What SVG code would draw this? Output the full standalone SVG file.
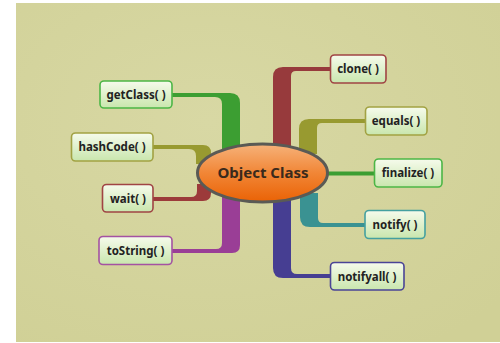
<svg xmlns="http://www.w3.org/2000/svg" width="500" height="343" viewBox="0 0 500 343">
<defs>
<linearGradient id="box" x1="0" y1="0" x2="0" y2="1">
<stop offset="0" stop-color="#f6fbec"/>
<stop offset="1" stop-color="#c9e6ad"/>
</linearGradient>
<linearGradient id="orb" x1="0" y1="0" x2="0" y2="1">
<stop offset="0" stop-color="#f6b27a"/>
<stop offset="0.5" stop-color="#f18636"/>
<stop offset="1" stop-color="#ea6205"/>
</linearGradient>
<radialGradient id="bg" cx="0.4" cy="0.35" r="0.8">
<stop offset="0" stop-color="#d8d8a4"/>
<stop offset="1" stop-color="#d0d096"/>
</radialGradient>
</defs>
<style>
.node rect{fill:url(#box);stroke-width:1.6}
.node text{font-family:"Noto Sans","Open Sans",sans-serif;font-weight:bold;font-size:11.5px;fill:#222;text-anchor:middle}
.title{font-family:"Noto Sans","Open Sans",sans-serif;font-weight:bold;font-size:15px;fill:#3a2a1c;text-anchor:middle}
</style>
<rect x="0" y="0" width="500" height="343" fill="#ffffff"/>
<rect x="16" y="3" width="484" height="339" fill="url(#bg)"/>
<g id="connectors">
<path fill="#3c9e32" d="M172,93 L230,93 Q240,93 240,103 L240,150 L222,150 L222,104 Q222,97 215,97 L172,97 Z"/>
<path fill="#989a30" d="M153,145 L203,145 Q211,145 211,153 L211,164 L196,164 L196,156 Q196,149 189,149 L153,149 Z"/>
<path fill="#9c3a3a" d="M153,197 L191,197 Q197,197 197,191 L197,184 L211,184 L211,193 Q211,201 203,201 L153,201 Z"/>
<path fill="#9a3e96" d="M222,196 L240,196 L240,245 Q240,253 232,253 L172,253 L172,249 L216,249 Q222,249 222,243 Z"/>
<path fill="#973a3c" d="M330,67 L283,67 Q273,67 273,77 L273,150 L291,150 L291,76 Q291,71 296,71 L330,71 Z"/>
<path fill="#989a30" d="M365,119 L309,119 Q299,119 299,129 L299,154 L317,154 L317,128 Q317,123 322,123 L365,123 Z"/>
<path fill="#3c9e32" d="M326,171.5 L374,171.5 L374,175.5 L326,175.5 Z"/>
<path fill="#3a9292" d="M300,193 L318,193 L318,218 Q318,223 323,223 L365,223 L365,227 L310,227 Q300,227 300,217 Z"/>
<path fill="#463e92" d="M273,196 L291,196 L291,268 Q291,274 297,274 L330,274 L330,278 L283,278 Q273,278 273,268 Z"/>
</g>
<g id="center">
<ellipse cx="262.5" cy="173" rx="65" ry="29" fill="url(#orb)" stroke="#5a5a55" stroke-width="3"/>
<text class="title" x="263" y="178">Object Class</text>
</g>
<g id="getClass" class="node"><rect x="100" y="81" width="72" height="27" rx="4" stroke="#4cb646"/><text x="136" y="98.5">getClass( )</text></g>
<g id="hashCode" class="node"><rect x="71.5" y="133" width="81.5" height="28" rx="4" stroke="#a2a243"/><text x="112" y="151">hashCode( )</text></g>
<g id="wait" class="node"><rect x="102.5" y="184.5" width="50.5" height="27.5" rx="4" stroke="#a04444"/><text x="128" y="202.5">wait( )</text></g>
<g id="toString" class="node"><rect x="99" y="236.5" width="73" height="28" rx="4" stroke="#a452a2"/><text x="135.5" y="254.5">toString( )</text></g>
<g id="clone" class="node"><rect x="330.5" y="55" width="55.5" height="28" rx="4" stroke="#a04444"/><text x="358" y="73">clone( )</text></g>
<g id="equals" class="node"><rect x="365.5" y="107" width="61.5" height="28" rx="4" stroke="#a2a243"/><text x="396" y="125">equals( )</text></g>
<g id="finalize" class="node"><rect x="374.5" y="159" width="67.5" height="28" rx="4" stroke="#4cb646"/><text x="408" y="177">finalize( )</text></g>
<g id="notify" class="node"><rect x="365" y="210.5" width="60" height="28" rx="4" stroke="#44a0a0"/><text x="395" y="228.5">notify( )</text></g>
<g id="notifyall" class="node"><rect x="330.5" y="262.5" width="73.5" height="27.5" rx="4" stroke="#4a4496"/><text x="367" y="280.5">notifyall( )</text></g>
</svg>
